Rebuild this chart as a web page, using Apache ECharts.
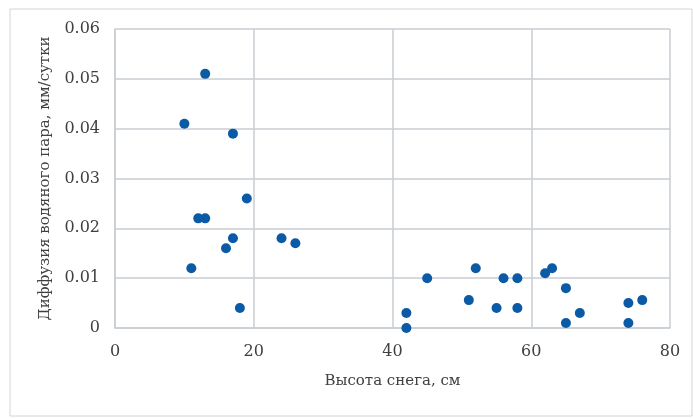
<!DOCTYPE html>
<html>
<head>
<meta charset="utf-8">
<script src="https://cdn.jsdelivr.net/npm/echarts@6/dist/echarts.min.js"></script>
<style>
  html, body { margin: 0; padding: 0; background: #ffffff; }
  #chart { width: 693px; height: 418px; }
</style>
</head>
<body>
<div id="chart"></div>
<script>
// Snow depth (cm) vs. water vapour diffusion (mm/day)
const snowDepth = [10, 13, 17, 19, 12, 13, 17, 16, 11, 18, 24, 26,
                   42, 42, 45, 52, 51, 55, 56, 58, 58, 62, 63, 65, 65, 67, 74, 74, 76];
const vapourDiffusion = [0.041, 0.051, 0.039, 0.026, 0.022, 0.022, 0.018, 0.016, 0.012, 0.004, 0.018, 0.017,
                         0.003, 0.000, 0.010, 0.012, 0.0056, 0.004, 0.010, 0.010, 0.004, 0.011, 0.012, 0.008, 0.001, 0.003, 0.005, 0.001, 0.0056];
const xTitle = 'Высота снега, см';
const yTitle = 'Диффузия водяного пара, мм/сутки';

const points = snowDepth.map((x, i) => [x, vapourDiffusion[i]]);

const textColor = '#404040';
const gridColor = '#c9ced3';
const font = 'DejaVu Serif';

const chart = echarts.init(document.getElementById('chart'), null, { renderer: 'canvas' });
chart.setOption({
  animation: false,
  backgroundColor: '#ffffff',
  graphic: [{
    type: 'rect',
    shape: { x: 10, y: 9, width: 682, height: 407 },
    style: { fill: 'none', stroke: '#d4d4d4', lineWidth: 1 },
    silent: true
  }],
  grid: { left: 115, right: 23, top: 29, bottom: 90 },
  xAxis: {
    type: 'value',
    min: 0, max: 80, interval: 20,
    name: xTitle,
    nameLocation: 'middle',
    nameGap: 46,
    nameTextStyle: { color: textColor, fontFamily: font, fontSize: 15 },
    axisLine: { show: true, lineStyle: { color: gridColor, width: 1.5 } },
    axisTick: { show: false },
    axisLabel: { color: textColor, fontFamily: font, fontSize: 16, margin: 16 },
    splitLine: { show: true, lineStyle: { color: gridColor, width: 1.5 } }
  },
  yAxis: {
    type: 'value',
    min: 0, max: 0.06, interval: 0.01,
    name: yTitle,
    nameLocation: 'middle',
    nameGap: 62,
    nameTextStyle: { color: textColor, fontFamily: font, fontSize: 15 },
    axisLine: { show: true, lineStyle: { color: gridColor, width: 1.5 } },
    axisTick: { show: false },
    axisLabel: {
      color: textColor, fontFamily: font, fontSize: 16, margin: 15,
      formatter: v => (v === 0 ? '0' : v.toFixed(2))
    },
    splitLine: { show: true, lineStyle: { color: gridColor, width: 1.5 } }
  },
  series: [{
    type: 'scatter',
    data: points,
    symbol: 'circle',
    symbolSize: 10,
    itemStyle: { color: '#0b5aa6', opacity: 1 }
  }]
});
</script>
</body>
</html>
